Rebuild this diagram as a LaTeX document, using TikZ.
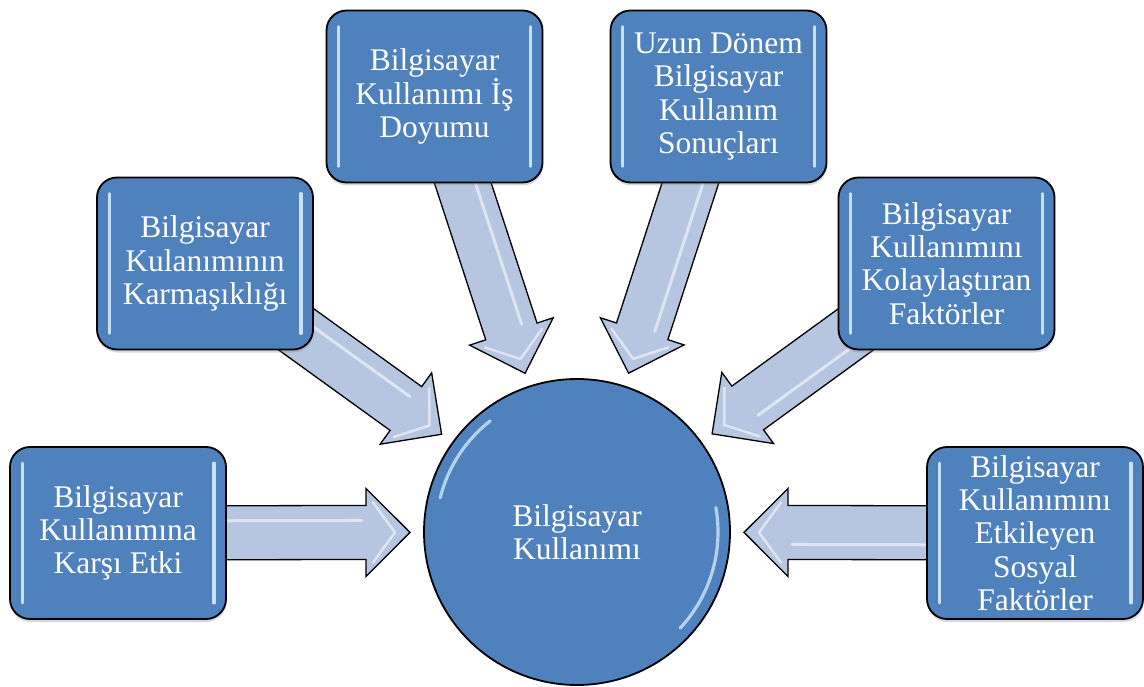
\documentclass[tikz,border=0pt]{standalone}
\usepackage{fontspec}
\setmainfont{Liberation Serif}
\usetikzlibrary{calc,shadows}

\definecolor{boxblue}{RGB}{79,129,189}
\definecolor{arrowfill}{RGB}{182,198,225}
\definecolor{gloss}{RGB}{214,236,255}

\pgfdeclarelayer{back}
\pgfsetlayers{back,main}

\tikzset{
  labeltext/.style={text=white, font=\fontsize{31.5}{33.3}\selectfont, align=center},
  factor/.style={labeltext, rectangle, rounded corners=20pt, draw=black,
    line width=1.8pt, fill=boxblue, minimum width=216pt, minimum height=172pt,
    inner sep=0pt,
    drop shadow={opacity=0.3, shadow xshift=0.5pt, shadow yshift=-3pt}},
  hubstyle/.style={labeltext, circle, draw=black, line width=1.8pt,
    fill=boxblue, minimum size=306pt, inner sep=0pt},
  glossline/.style={draw=gloss, line width=3.2pt, line cap=round, opacity=0.9},
  arrowbody/.style={fill=arrowfill, draw=black, line width=1.3pt, line join=miter},
  arrowshine/.style={draw=white, line width=3pt, line cap=round, line join=round, opacity=0.55}
}

% block arrow from a factor box towards the hub, tip 167pt from the hub centre
\newcommand\feedarrow[2]{%
  \coordinate (tipP) at ($(#2.center)!167pt!(#1.center)$);
  \coordinate (startP) at (#1.center);
  \coordinate (baseP) at ($(tipP)!44pt!(startP)$);
  \draw[arrowbody]
    ($(startP)!27pt!90:(tipP)$) -- ($(baseP)!27pt!90:(tipP)$) --
    ($(baseP)!44pt!90:(tipP)$) -- (tipP) --
    ($(baseP)!44pt!-90:(tipP)$) -- ($(baseP)!27pt!-90:(tipP)$) --
    ($(startP)!27pt!-90:(tipP)$) -- cycle;
  \draw[arrowshine] ($(startP)!12pt!90:(tipP)$) -- ($($(baseP)!4pt!(startP)$)!12pt!90:(tipP)$);
  \coordinate (chevP) at ($(baseP)!7pt!(tipP)$);
  \draw[arrowshine, line width=2.5pt]
    ($(chevP)!30pt!90:(tipP)$) -- ($(tipP)!15pt!(startP)$) -- ($(chevP)!30pt!-90:(tipP)$);
}

% glossy vertical strips inside a factor box
\newcommand\boxgloss[1]{%
  \draw[glossline] ($(#1.north west)+(13,17)$) -- ($(#1.south west)+(13,-17)$);
  \draw[glossline] ($(#1.north east)+(-13,17)$) -- ($(#1.south east)+(-13,-17)$);
}

\begin{document}
\begin{tikzpicture}[x=1pt,y=-1pt]
\useasboundingbox (0,0) rectangle (1144,687);

% central concept
\node[hubstyle] (hub) at (577,532) {Bilgisayar\\Kullanımı};
\draw[glossline, opacity=0.75] ([shift={(-128:141)}]hub.center) arc[start angle=-128, end angle=-166, radius=141];
\draw[glossline, opacity=0.75] ([shift={(43:141)}]hub.center) arc[start angle=43, end angle=-10, radius=141];

% factor boxes
\node[factor] (b1) at (118,533)   {Bilgisayar\\Kullanımına\\Karşı Etki};
\node[factor] (b2) at (205,263.5) {Bilgisayar\\Kulanımının\\Karmaşıklığı};
\node[factor] (b3) at (434.5,96.5) {Bilgisayar\\Kullanımı İş\\Doyumu};
\node[factor] (b4) at (718.5,96.5) {Uzun Dönem\\Bilgisayar\\Kullanım\\Sonuçları};
\node[factor] (b5) at (946.5,263.5) {Bilgisayar\\Kullanımını\\Kolaylaştıran\\Faktörler};
\node[factor] (b6) at (1035,533)  {Bilgisayar\\Kullanımını\\Etkileyen\\Sosyal\\Faktörler};

\foreach \b in {b1,b2,b3,b4,b5,b6} {\boxgloss{\b}}

% block arrows, behind the boxes
\begin{pgfonlayer}{back}
  \foreach \b in {b1,b2,b3,b4,b5,b6} {\feedarrow{\b}{hub}}
\end{pgfonlayer}
\end{tikzpicture}
\end{document}
